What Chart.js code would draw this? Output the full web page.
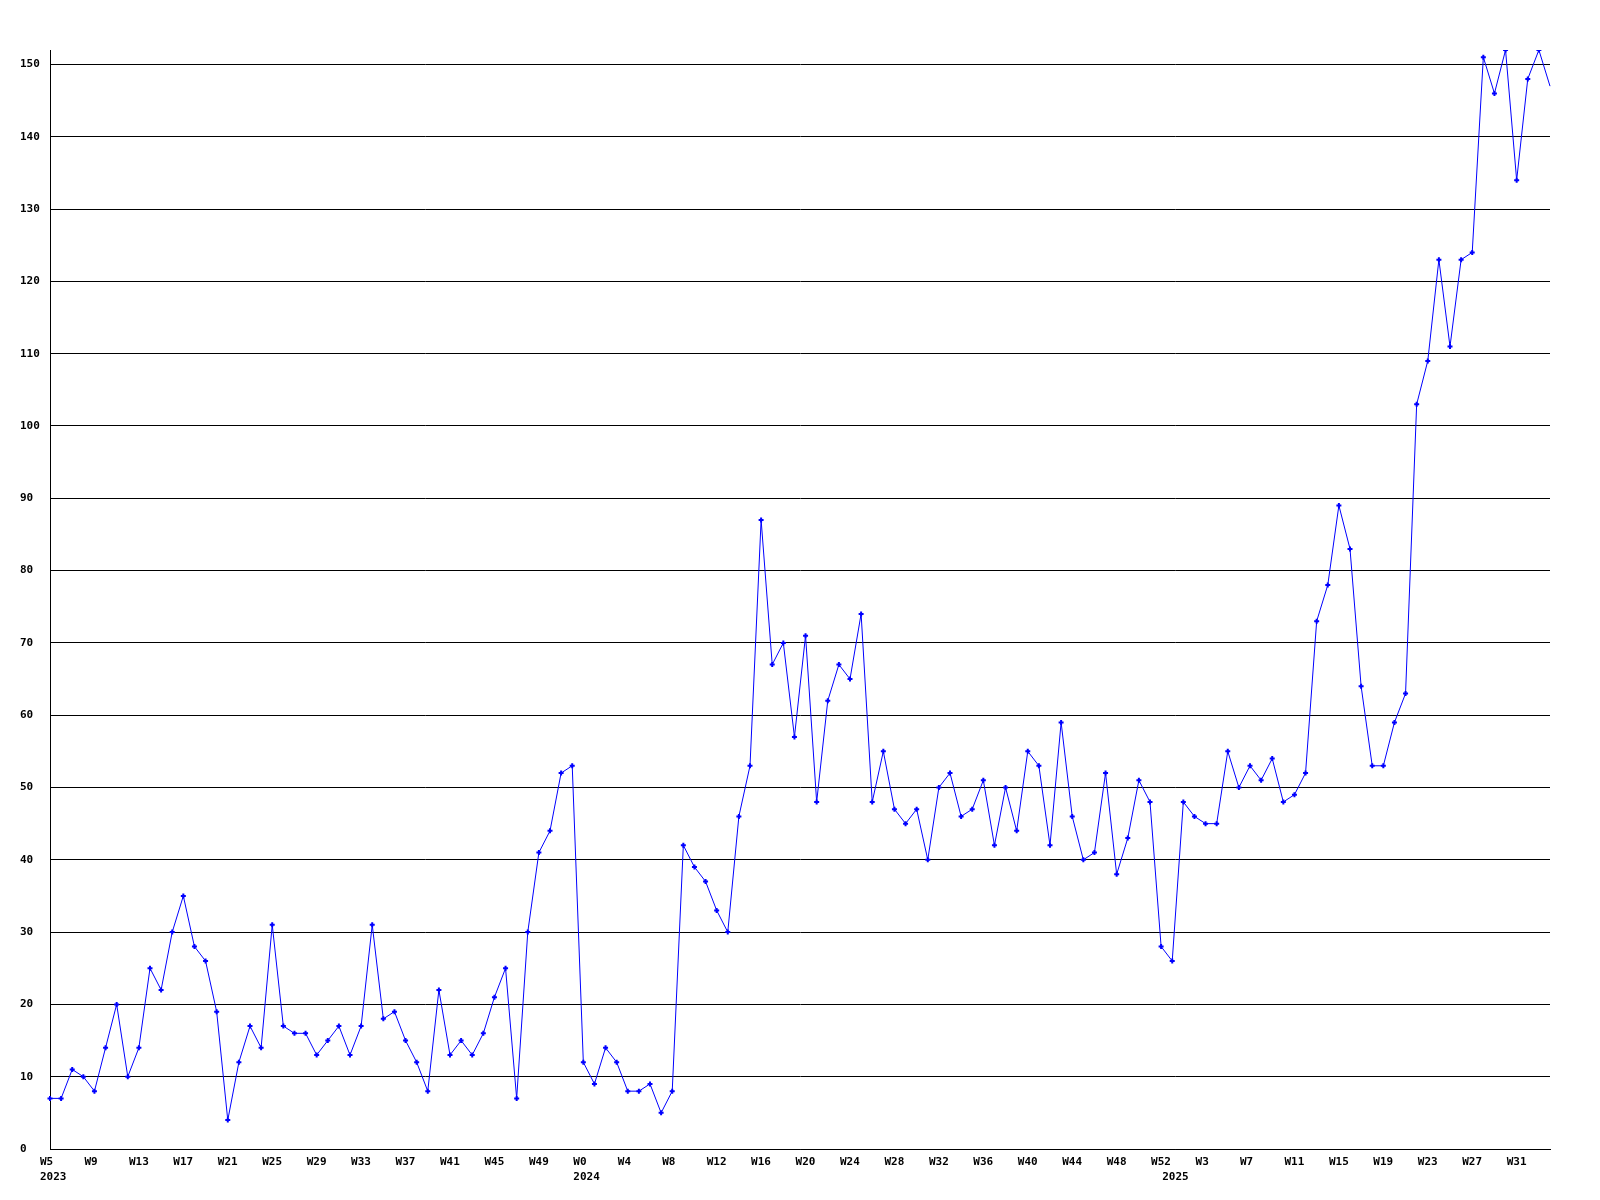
<!DOCTYPE html>
<html>
<head>
<meta charset="utf-8">
<title>Weekly count</title>
<script src="https://cdn.jsdelivr.net/npm/chart.js@4.4.0/dist/chart.umd.min.js"></script>
<style>
  html, body { margin: 0; padding: 0; background: #ffffff; }
  canvas { display: block; }
</style>
</head>
<body>
<canvas id="chart" width="1600" height="1200"></canvas>
<script>
// one value per week
const yearLabels = ['2023', '2024', '2025'];
const yearFirstWeek = [5, 0, 0];

const values2023 = [7, 7, 11, 10, 8, 14, 20, 10, 14, 25,
  22, 30, 35, 28, 26, 19, 4, 12, 17, 14,
  31, 17, 16, 16, 13, 15, 17, 13, 17, 31,
  18, 19, 15, 12, 8, 22, 13, 15, 13, 16,
  21, 25, 7, 30, 41, 44, 52, 53];

const values2024 = [12, 9, 14, 12, 8, 8, 9, 5, 8, 42,
  39, 37, 33, 30, 46, 53, 87, 67, 70, 57,
  71, 48, 62, 67, 65, 74, 48, 55, 47, 45,
  47, 40, 50, 52, 46, 47, 51, 42, 50, 44,
  55, 53, 42, 59, 46, 40, 41, 52, 38, 43,
  51, 48, 28];

const values2025 = [26, 48, 46, 45, 45, 55, 50, 53, 51, 54,
  48, 49, 52, 73, 78, 89, 83, 64, 53, 53,
  59, 63, 103, 109, 123, 111, 123, 124, 151, 146,
  152, 134, 148, 152, 147];

const yTickStep = 10;
const yMax = 152;
const labelEvery = 4;

// build the category list (week + year) from the arrays above
const perYear = [values2023, values2024, values2025];
const weeks = [];
const yearOf = [];
const values = [];
perYear.forEach((vals, y) => {
  vals.forEach((v, i) => {
    weeks.push('W' + (yearFirstWeek[y] + i));
    yearOf.push(i === 0 ? yearLabels[y] : '');
    values.push(v);
  });
});

const tickFont = { family: "'DejaVu Sans Mono', 'Liberation Mono', monospace", size: 11, weight: 'bold', lineHeight: 1.4 };

new Chart(document.getElementById('chart'), {
  type: 'line',
  data: {
    labels: weeks,
    datasets: [{
      data: values,
      borderColor: '#0000ff',
      backgroundColor: '#0000ff',
      borderWidth: 1,
      tension: 0,
      fill: false,
      pointStyle: 'cross',
      pointRadius: (ctx) => ctx.dataIndex === values.length - 1 ? 0 : 2.5,
      pointBorderWidth: 2,
      pointBorderColor: '#0000ff'
    }]
  },
  options: {
    responsive: false,
    animation: false,
    devicePixelRatio: 1,
    layout: { padding: { left: 20, top: 50, right: 50, bottom: 0 } },
    plugins: {
      legend: { display: false },
      tooltip: { enabled: false }
    },
    scales: {
      x: {
        type: 'category',
        offset: false,
        grid: { display: false, drawTicks: false },
        border: { display: true, color: '#000000', width: 1 },
        ticks: {
          autoSkip: false,
          maxRotation: 0,
          minRotation: 0,
          align: 'start',
          labelOffset: -10,
          padding: 5,
          color: '#000000',
          font: tickFont,
          callback: function (value, index) {
            const week = index % labelEvery === 0 ? weeks[index] : '';
            if (yearOf[index]) return [week, yearOf[index]];
            return week;
          }
        },
        afterFit: (scale) => { scale.height = 51; }
      },
      y: {
        min: 0,
        max: yMax,
        grid: { display: true, color: '#000000', lineWidth: 1, drawTicks: false },
        border: { display: true, color: '#000000', width: 1 },
        ticks: {
          stepSize: yTickStep,
          includeBounds: false,
          crossAlign: 'far',
          color: '#000000',
          font: tickFont
        },
        afterFit: (scale) => { scale.width = 30; }
      }
    }
  }
});
</script>
</body>
</html>
